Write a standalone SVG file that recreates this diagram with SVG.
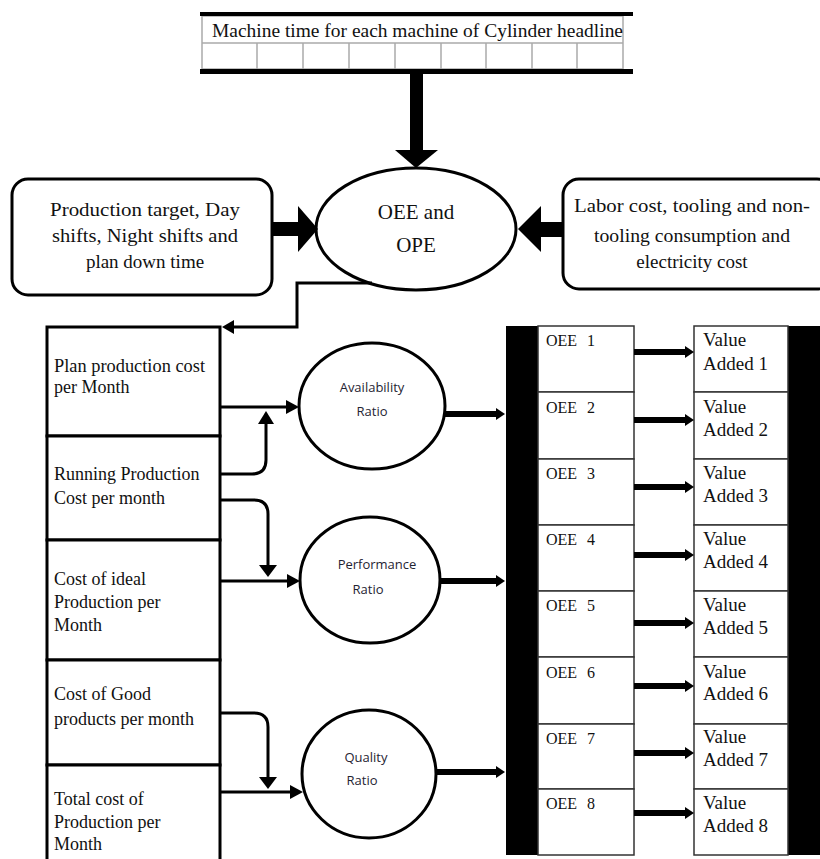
<svg xmlns="http://www.w3.org/2000/svg" width="820" height="859" viewBox="0 0 820 859">
<style>
.serif{font-family:"Liberation Serif","Times New Roman",serif;fill:#111;}
.sans{font-family:"Open Sans","Liberation Sans",sans-serif;fill:#1f2433;font-size:13px;}
.box{fill:#fff;stroke:#000;stroke-width:3;}
.thin{fill:#fff;stroke:#333;stroke-width:1.5;}
.conn{fill:none;stroke:#000;stroke-width:3;}
.thick{fill:none;stroke:#000;stroke-width:6;}
.grid{stroke:#aaa;stroke-width:1.5;fill:none;}
.oee{font-size:16px;}
.va{font-size:19px;}
.col{font-size:18px;}
</style>
<rect width="820" height="859" fill="#fff"/>

<g id="machine-table">
  <rect x="202" y="16" width="421" height="53" class="grid" fill="#fff"/>
  <line x1="202" y1="43" x2="623" y2="43" class="grid"/>
  <g class="grid">
    <line x1="257" y1="43" x2="257" y2="69"/>
    <line x1="303" y1="43" x2="303" y2="69"/>
    <line x1="349" y1="43" x2="349" y2="69"/>
    <line x1="395" y1="43" x2="395" y2="69"/>
    <line x1="441" y1="43" x2="441" y2="69"/>
    <line x1="486" y1="43" x2="486" y2="69"/>
    <line x1="532" y1="43" x2="532" y2="69"/>
    <line x1="577" y1="43" x2="577" y2="69"/>
  </g>
  <rect x="200" y="12" width="433" height="4" fill="#000"/>
  <rect x="200" y="69" width="433" height="5" fill="#000"/>
  <text x="212" y="37" class="serif" font-size="19" textLength="411" lengthAdjust="spacingAndGlyphs">Machine time for each machine of Cylinder headline</text>
</g>

<g id="oee-ope">
  <ellipse cx="416" cy="229" rx="100" ry="61" class="box"/>
  <text x="416" y="219" class="serif" font-size="21" text-anchor="middle">OEE and</text>
  <text x="416" y="252" class="serif" font-size="21" text-anchor="middle">OPE</text>
</g>

<g id="production-target">
  <rect x="12" y="179" width="260" height="116" rx="16" class="box"/>
  <text x="145" y="216" class="serif" font-size="19" text-anchor="middle" textLength="190" lengthAdjust="spacingAndGlyphs">Production target, Day</text>
  <text x="145" y="242" class="serif" font-size="19" text-anchor="middle" textLength="186" lengthAdjust="spacingAndGlyphs">shifts, Night shifts and</text>
  <text x="145" y="268" class="serif" font-size="19" text-anchor="middle">plan down time</text>
</g>

<g id="labor-cost">
  <rect x="563" y="179" width="270" height="110" rx="16" class="box"/>
  <text x="692" y="212" class="serif" font-size="19" text-anchor="middle" textLength="236" lengthAdjust="spacingAndGlyphs">Labor cost, tooling and non-</text>
  <text x="692" y="242" class="serif" font-size="19" text-anchor="middle" textLength="196" lengthAdjust="spacingAndGlyphs">tooling consumption and</text>
  <text x="692" y="268" class="serif" font-size="19" text-anchor="middle">electricity cost</text>
</g>

<g id="plan-production-cost">
  <rect x="47" y="327" width="173" height="109" class="box"/>
  <text x="54" y="372" class="serif col" textLength="151" lengthAdjust="spacingAndGlyphs">Plan production  cost</text>
  <text x="54" y="393" class="serif col">per Month</text>
</g>
<g id="running-production-cost">
  <rect x="47" y="436" width="173" height="104" class="box"/>
  <text x="54" y="480" class="serif col">Running Production</text>
  <text x="54" y="504" class="serif col">Cost per month</text>
</g>
<g id="ideal-production-cost">
  <rect x="47" y="540" width="173" height="120" class="box"/>
  <text x="54" y="585" class="serif col">Cost of ideal</text>
  <text x="54" y="608" class="serif col">Production per</text>
  <text x="54" y="631" class="serif col">Month</text>
</g>
<g id="good-products-cost">
  <rect x="47" y="660" width="173" height="105" class="box"/>
  <text x="54" y="700" class="serif col">Cost of Good</text>
  <text x="54" y="725" class="serif col">products per month</text>
</g>
<g id="total-production-cost">
  <rect x="47" y="765" width="173" height="100" class="box"/>
  <text x="54" y="805" class="serif col">Total cost of</text>
  <text x="54" y="828" class="serif col">Production per</text>
  <text x="54" y="850" class="serif col">Month</text>
</g>

<g id="availability-ratio">
  <ellipse cx="372" cy="406" rx="73" ry="63" class="box"/>
  <text x="372" y="392" class="sans" text-anchor="middle">Availability</text>
  <text x="372" y="416" class="sans" text-anchor="middle">Ratio</text>
</g>
<g id="performance-ratio">
  <ellipse cx="370" cy="580" rx="70" ry="63" class="box"/>
  <text x="377" y="569" class="sans" text-anchor="middle">Performance</text>
  <text x="368" y="594" class="sans" text-anchor="middle">Ratio</text>
</g>
<g id="quality-ratio">
  <ellipse cx="369" cy="774" rx="67" ry="64" class="box"/>
  <text x="366" y="762" class="sans" text-anchor="middle">Quality</text>
  <text x="362" y="785" class="sans" text-anchor="middle">Ratio</text>
</g>

<g id="left-bar"><rect x="506" y="326" width="32" height="529" fill="#000"/></g>
<g id="right-bar"><rect x="788" y="326" width="32" height="529" fill="#000"/></g>

<g id="oee-boxes">
  <g id="oee1"><rect x="538" y="326" width="96" height="66" class="thin"/><text x="546" y="346" class="serif oee">OEE<tspan x="587">1</tspan></text></g>
  <g id="oee2"><rect x="538" y="392" width="96" height="67" class="thin"/><text x="546" y="413" class="serif oee">OEE<tspan x="587">2</tspan></text></g>
  <g id="oee3"><rect x="538" y="459" width="96" height="66" class="thin"/><text x="546" y="479" class="serif oee">OEE<tspan x="587">3</tspan></text></g>
  <g id="oee4"><rect x="538" y="525" width="96" height="66" class="thin"/><text x="546" y="545" class="serif oee">OEE<tspan x="587">4</tspan></text></g>
  <g id="oee5"><rect x="538" y="591" width="96" height="66" class="thin"/><text x="546" y="611" class="serif oee">OEE<tspan x="587">5</tspan></text></g>
  <g id="oee6"><rect x="538" y="657" width="96" height="67" class="thin"/><text x="546" y="678" class="serif oee">OEE<tspan x="587">6</tspan></text></g>
  <g id="oee7"><rect x="538" y="724" width="96" height="65" class="thin"/><text x="546" y="744" class="serif oee">OEE<tspan x="587">7</tspan></text></g>
  <g id="oee8"><rect x="538" y="789" width="96" height="66" class="thin"/><text x="546" y="809" class="serif oee">OEE<tspan x="587">8</tspan></text></g>
</g>

<g id="value-boxes">
  <g id="va1"><rect x="694" y="326" width="94" height="66" class="thin"/><text x="703" y="346" class="serif va">Value</text><text x="703" y="370" class="serif va">Added 1</text></g>
  <g id="va2"><rect x="694" y="392" width="94" height="67" class="thin"/><text x="703" y="413" class="serif va">Value</text><text x="703" y="436" class="serif va">Added 2</text></g>
  <g id="va3"><rect x="694" y="459" width="94" height="66" class="thin"/><text x="703" y="479" class="serif va">Value</text><text x="703" y="502" class="serif va">Added 3</text></g>
  <g id="va4"><rect x="694" y="525" width="94" height="66" class="thin"/><text x="703" y="545" class="serif va">Value</text><text x="703" y="568" class="serif va">Added 4</text></g>
  <g id="va5"><rect x="694" y="591" width="94" height="66" class="thin"/><text x="703" y="611" class="serif va">Value</text><text x="703" y="634" class="serif va">Added 5</text></g>
  <g id="va6"><rect x="694" y="657" width="94" height="67" class="thin"/><text x="703" y="678" class="serif va">Value</text><text x="703" y="700" class="serif va">Added 6</text></g>
  <g id="va7"><rect x="694" y="724" width="94" height="65" class="thin"/><text x="703" y="743" class="serif va">Value</text><text x="703" y="766" class="serif va">Added 7</text></g>
  <g id="va8"><rect x="694" y="789" width="94" height="66" class="thin"/><text x="703" y="809" class="serif va">Value</text><text x="703" y="832" class="serif va">Added 8</text></g>
</g>

<g id="connectors">
  <rect x="410" y="74" width="13" height="77" fill="#000"/>
  <polygon points="395,150 438,150 416,168" fill="#000"/>
  <rect x="272" y="222" width="28" height="14" fill="#000"/>
  <polygon points="298,206 318,229 298,252" fill="#000"/>
  <rect x="538" y="222" width="26" height="15" fill="#000"/>
  <polygon points="541,206 518,229 541,252" fill="#000"/>
  <path d="M372,283 H297 V327 H232" class="conn"/>
  <polygon points="234,320 222,327 234,334" fill="#000"/>
  <path d="M220,407 H290" class="conn"/>
  <polygon points="286,400 299,407 286,414" fill="#000"/>
  <path d="M220,474 H252 Q266,474 266,460 V422" class="conn"/>
  <polygon points="258,424 274,424 266,411" fill="#000"/>
  <path d="M220,500 H254 Q268,500 268,514 V566" class="conn"/>
  <polygon points="259,565 277,565 268,577" fill="#000"/>
  <path d="M220,581 H290" class="conn"/>
  <polygon points="287,574 300,581 287,588" fill="#000"/>
  <path d="M220,713 H254 Q268,713 268,727 V778" class="conn"/>
  <polygon points="259,777 277,777 268,789" fill="#000"/>
  <path d="M220,792 H292" class="conn"/>
  <polygon points="290,785 303,792 290,799" fill="#000"/>
  <path d="M445,414 H497" class="thick"/>
  <polygon points="496,408 505,414 496,420" fill="#000"/>
  <path d="M440,581 H497" class="thick"/>
  <polygon points="496,575 505,581 496,587" fill="#000"/>
  <path d="M436,772 H497" class="thick"/>
  <polygon points="496,766 505,772 496,778" fill="#000"/>
  <path d="M634,352 H686" class="thick"/><polygon points="685,346 694,352 685,358" fill="#000"/>
  <path d="M634,420 H686" class="thick"/><polygon points="685,414 694,420 685,426" fill="#000"/>
  <path d="M634,487 H686" class="thick"/><polygon points="685,481 694,487 685,493" fill="#000"/>
  <path d="M634,555 H686" class="thick"/><polygon points="685,549 694,555 685,561" fill="#000"/>
  <path d="M634,623 H686" class="thick"/><polygon points="685,617 694,623 685,629" fill="#000"/>
  <path d="M634,686 H686" class="thick"/><polygon points="685,680 694,686 685,692" fill="#000"/>
  <path d="M634,753 H686" class="thick"/><polygon points="685,747 694,753 685,759" fill="#000"/>
  <path d="M634,813 H686" class="thick"/><polygon points="685,807 694,813 685,819" fill="#000"/>
</g>
</svg>
